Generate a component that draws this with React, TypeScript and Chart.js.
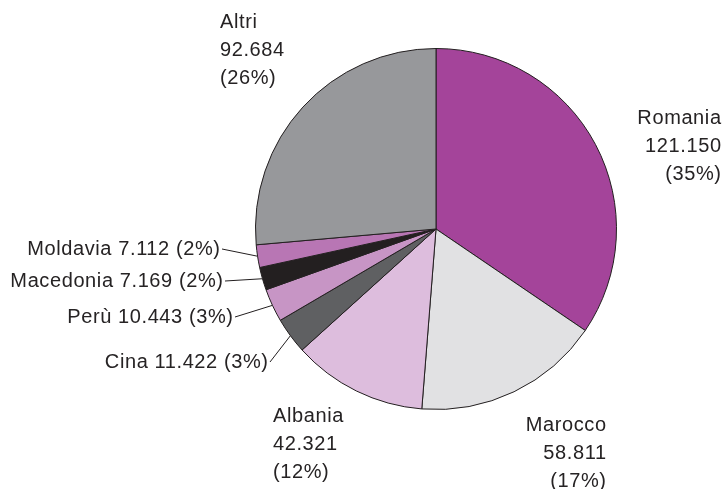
import React, { useEffect, useRef } from "react";
import { Chart, registerables } from "chart.js";

Chart.register(...registerables);

const categories = ["Romania", "Marocco", "Albania", "Cina", "Perù", "Macedonia", "Moldavia", "Altri"];
const values = [121150, 58811, 42321, 11422, 10443, 7169, 7112, 92684];
const colors = ["#A4449A", "#E1E1E3", "#DDBDDD", "#5F6062", "#C795C5", "#231F20", "#B876B4", "#97989B"];

// label layout: anchor x, first baseline y, alignment, multi-line, leader line
const labelLayout = [
  { x: 721, y: 124, align: "right", multi: true, leader: false },
  { x: 606, y: 431, align: "right", multi: true, leader: false },
  { x: 273, y: 422, align: "left", multi: true, leader: false },
  { x: 268, y: 368, align: "right", multi: false, leader: true },
  { x: 233, y: 323, align: "right", multi: false, leader: true },
  { x: 223, y: 287, align: "right", multi: false, leader: true },
  { x: 220, y: 255, align: "right", multi: false, leader: true },
  { x: 220, y: 28, align: "left", multi: true, leader: false },
];

const fmt = (v: number) => String(v).replace(/\B(?=(\d{3})+(?!\d))/g, ".");

const labelPlugin = {
  id: "pieLabels",
  afterDraw(chart: any) {
    const ctx = chart.ctx;
    const meta = chart.getDatasetMeta(0);
    const total = values.reduce((a, b) => a + b, 0);
    ctx.save();
    ctx.font = '20px "Liberation Sans", Arial, sans-serif';
    (ctx as any).letterSpacing = "0.6px";
    ctx.fillStyle = "#262324";
    ctx.strokeStyle = "#231F20";
    ctx.lineWidth = 1;
    ctx.textBaseline = "alphabetic";
    meta.data.forEach((arc: any, i: number) => {
      const L = labelLayout[i];
      const pct = Math.round((values[i] / total) * 100);
      const lines = L.multi
        ? [categories[i], fmt(values[i]), `(${pct}%)`]
        : [`${categories[i]} ${fmt(values[i])} (${pct}%)`];
      ctx.textAlign = L.align;
      const dx = L.align === "right" ? 0.6 : 0;
      lines.forEach((t, k) => ctx.fillText(t, L.x + dx, L.y + k * 28));
      if (L.leader) {
        const p = arc.getProps(["x", "y", "startAngle", "endAngle", "outerRadius"], true);
        const mid = (p.startAngle + p.endAngle) / 2;
        const ex = p.x + Math.cos(mid) * p.outerRadius;
        const ey = p.y + Math.sin(mid) * p.outerRadius;
        ctx.beginPath();
        ctx.moveTo(L.x + 2, L.y - 6);
        ctx.lineTo(ex, ey);
        ctx.stroke();
      }
    });
    ctx.restore();
  },
};

export default function App() {
  const ref = useRef<HTMLCanvasElement>(null);
  useEffect(() => {
    if (!ref.current) return;
    const chart = new Chart(ref.current, {
      type: "pie",
      data: {
        labels: categories,
        datasets: [
          {
            data: values,
            backgroundColor: colors,
            borderColor: "#231F20",
            borderWidth: 1,
          },
        ],
      },
      options: {
        responsive: false,
        animation: false,
        devicePixelRatio: 1,
        layout: { padding: { left: 255, right: 109, top: 48, bottom: 79 } },
        plugins: { legend: { display: false }, tooltip: { enabled: false } },
      },
      plugins: [labelPlugin],
    });
    return () => chart.destroy();
  }, []);
  return (
    <div style={{ position: "absolute", left: 0, top: 0, width: 726, height: 489, background: "#fff" }}>
      <canvas ref={ref} width={726} height={489} />
    </div>
  );
}
